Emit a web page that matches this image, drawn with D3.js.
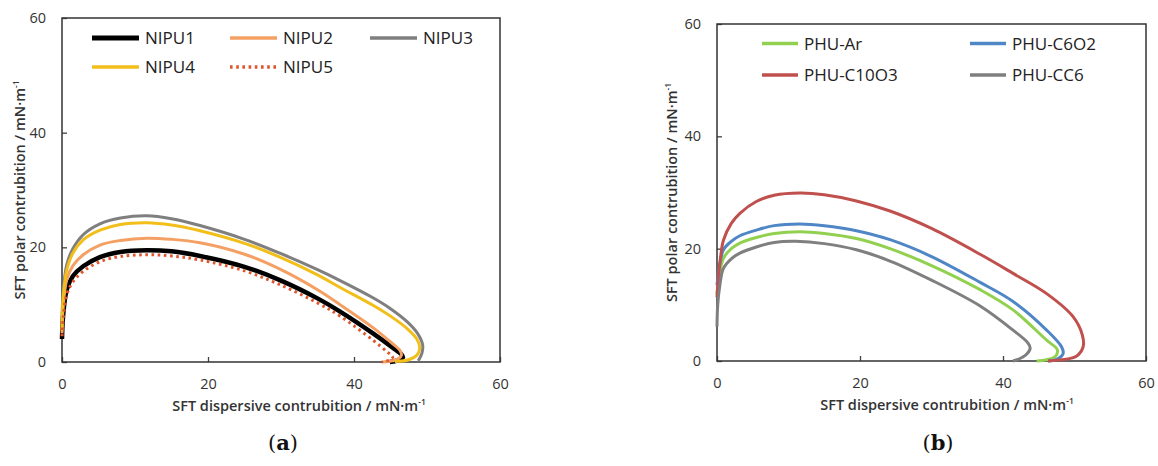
<!DOCTYPE html>
<html><head><meta charset="utf-8">
<script src="https://cdn.jsdelivr.net/npm/d3@7"></script>
<style>body{margin:0;background:#fff}</style>
</head><body><svg id="c" width="1158" height="466"></svg>
<script>
const xTicks=[0,20,40,60];
const yTicks=[0,20,40,60];
const namesA=["NIPU1","NIPU2","NIPU3","NIPU4","NIPU5"];
const namesB=["PHU-Ar","PHU-C6O2","PHU-C10O3","PHU-CC6"];
const xTitle="SFT dispersive contrubition / mN·m";
const yTitle="SFT polar contrubition / mN·m";
const panelLabels=["a","b"];

const nipu1=[[0,4],[0.15,8],[0.64,12.6],[1.5,15],[2.9,16.7],[5.2,18.3],[8,19.2],[11.6,19.5],[15,19.3],[18.9,18.5],[25,16.6],[30,14.2],[35,11.1],[38.1,8.8],[42.6,5.0],[45.3,2.5],[46.5,1.3],[46.7,0.8],[46,0.3],[44.9,0]];
const nipu2=[[0,5],[0.15,9.5],[0.64,14.3],[1.5,16.8],[2.9,18.7],[5.2,20.4],[8,21.2],[11.6,21.6],[15,21.4],[18.9,20.8],[25,18.8],[30,16.1],[35,12.6],[38.1,10.0],[42.6,6.0],[45,3.5],[46.3,2.0],[46.5,1.2],[46,0.5],[44,0]];
const nipu3=[[0,7.3],[0.15,12],[0.64,16.9],[1.5,19.8],[2.9,22.2],[5.2,24.1],[8,25.1],[11.6,25.5],[15,25.0],[18.9,23.8],[25,21.4],[30,18.9],[35,16.1],[38.1,14.2],[42.6,11.2],[45,9.3],[47.3,7.0],[48.7,5],[49.4,3],[49.3,1.5],[48.8,0.2]];
const nipu4=[[0,5.5],[0.15,11],[0.64,16],[1.5,19],[2.9,21.3],[5.2,23.0],[8,24.0],[11.6,24.3],[15,23.9],[18.9,22.9],[25,20.7],[30,18.2],[35,15.2],[38.1,13.0],[42.6,9.9],[45,8.0],[47.2,5.9],[48.6,4],[49,2.6],[48.7,1.3],[47.5,0.4],[45.6,0.1]];
const nipu5=[[0,4.5],[0.15,7.5],[0.64,11.7],[1.5,14],[2.9,15.8],[5.2,17.5],[8,18.4],[11.6,18.7],[15,18.5],[18.9,17.8],[25,15.9],[30,13.4],[35,10.3],[38.1,8.0],[42.6,3.8],[44.5,1.8],[45.3,0.9],[45,0.4],[43.8,0]];

const phuAr=[[0,12],[0.3,15],[0.9,18.3],[2,20],[3.2,21],[5.5,22.0],[8,22.7],[11.6,23.0],[15,22.7],[19.5,21.8],[24.2,20.0],[30,17.0],[36.8,12.7],[41.4,9.1],[46.1,3.7],[47.6,2.0],[47.3,0.8],[46,0.2],[44.7,0]];
const phuC6O2=[[0,13.5],[0.3,16.5],[0.9,19.8],[2,21.3],[3.2,22.3],[5.5,23.3],[8,24.1],[11.6,24.4],[15,24.1],[19.5,23.2],[24.2,21.6],[30,18.6],[36.8,14.0],[41.4,10.6],[46.1,5.5],[48.2,2.5],[48.4,1.3],[47.5,0.3],[46.3,0]];
const phuC10O3=[[0,11.4],[0.2,15],[0.5,18.5],[0.9,21.5],[2,24.5],[3.2,26.3],[5.5,28.4],[8,29.5],[11.6,29.9],[15,29.6],[19.5,28.5],[24.2,26.7],[30,23.6],[36.8,19.0],[41.4,15.6],[46.1,12.0],[49.8,7.9],[51.1,4.6],[51.2,2.5],[50.2,0.8],[48,0.2],[46.3,0]];
const phuCC6=[[0,6.1],[0.1,10],[0.4,13.5],[0.9,16.5],[2,18.2],[3.2,19.2],[5.5,20.3],[8,21.1],[11,21.3],[15,20.9],[19.5,19.8],[24.2,17.8],[30,14.4],[36.8,9.8],[41.4,5.5],[43.5,3.2],[43.8,2.3],[43.3,1.2],[42.3,0.4],[41.4,0]];

const seriesA=[nipu1,nipu2,nipu3,nipu4,nipu5];
const seriesB=[phuAr,phuC6O2,phuC10O3,phuCC6];

const svg=d3.select("#c");
svg.append("rect").attr("width",1158).attr("height",466).attr("fill","#fff");

const panels=[
 {names:namesA,data:seriesA,order:[0,1,2,3,4],
  colors:["#000000","#F4A064","#7F7F7F","#F2BE1A","#E0552B"],
  widths:[4.5,3,3,3,3],dash:[null,null,null,null,"2.6,3.6"],
  left:62,right:500,top:18,bottom:362,
  legend:{cols:[30,168,308],rows:[20,49],len:47,pos:[[0,0],[1,0],[2,0],[0,1],[1,1]],lw:[5,3.5,3.5,3.5,3.5]},
  yTitleX:20,xTitleX:299,labelX:283},
 {names:namesB,data:seriesB,order:[0,1,2,3],
  colors:["#92D050","#4F86C6","#C0504D","#7F7F7F"],
  widths:[3,3,3,3],dash:[null,null,null,null],
  left:717,right:1146,top:24,bottom:361,
  legend:{cols:[45,253],rows:[19.6,51],len:36,pos:[[0,0],[1,0],[0,1],[1,1]],lw:[3.5,3.5,3.5,3.5]},
  yTitleX:672,xTitleX:947,labelX:938}
];

panels.forEach((p,pi)=>{
 const x=d3.scaleLinear().domain([0,60]).range([p.left,p.right]);
 const y=d3.scaleLinear().domain([0,60]).range([p.bottom,p.top]);
 const g=svg.append("g");
 const ax=g.append("g").attr("transform",`translate(0,${p.bottom})`)
   .call(d3.axisBottom(x).tickValues(xTicks).tickSizeInner(-5).tickSizeOuter(0).tickPadding(17));
 const ay=g.append("g").attr("transform",`translate(${p.left},0)`)
   .call(d3.axisLeft(y).tickValues(yTicks).tickSizeInner(-5).tickSizeOuter(0).tickPadding(16));
 [ax,ay].forEach(a=>{
   a.select(".domain").remove();
   a.selectAll("line").attr("stroke","#404040").attr("stroke-width",1.3);
   a.selectAll("text").attr("font-family","Open Sans").attr("font-size",14.5).attr("fill","#333");
 });
 g.append("rect").attr("x",p.left).attr("y",p.top).attr("width",p.right-p.left).attr("height",p.bottom-p.top)
  .attr("fill","none").attr("stroke","#333").attr("stroke-width",1.5);
 const line=d3.line().x(d=>x(d[0])).y(d=>y(d[1])).curve(d3.curveCatmullRom.alpha(0.5));
 p.order.forEach(i=>{
   g.append("path").attr("d",line(p.data[i])).attr("fill","none")
    .attr("stroke",p.colors[i]).attr("stroke-width",p.widths[i])
    .attr("stroke-linejoin","round")
    .attr("stroke-dasharray",p.dash[i]);
 });
 p.names.forEach((n,i)=>{
   const [c,r]=p.legend.pos[i];
   const lx=p.left+p.legend.cols[c], ly=p.top+p.legend.rows[r];
   g.append("line").attr("x1",lx).attr("x2",lx+p.legend.len).attr("y1",ly).attr("y2",ly)
    .attr("stroke",p.colors[i]).attr("stroke-width",p.legend.lw[i]).attr("stroke-dasharray",p.dash[i]);
   g.append("text").attr("x",lx+p.legend.len+6).attr("y",ly+6)
    .attr("font-family","Open Sans").attr("font-size",17).attr("fill","#222").text(n);
 });
 const xt=g.append("text").attr("x",p.xTitleX).attr("y",p.bottom+49).attr("text-anchor","middle")
   .attr("font-family","Open Sans").attr("font-weight",600).attr("font-size",14.5).attr("fill","#333");
 xt.append("tspan").text(xTitle);
 xt.append("tspan").attr("font-size",8.5).attr("dy",-6.5).text("-1");
 const cy=(p.top+p.bottom)/2;
 const yt=g.append("text").attr("transform",`translate(${p.yTitleX},${cy}) rotate(-90)`).attr("text-anchor","middle")
   .attr("y",5).attr("font-family","Open Sans").attr("font-weight",600).attr("font-size",14.5).attr("fill","#333");
 yt.append("tspan").text(yTitle);
 yt.append("tspan").attr("font-size",8.5).attr("dy",-6.5).text("-1");
 const pl=g.append("text").attr("x",p.labelX).attr("y",450).attr("text-anchor","middle")
   .attr("font-family","DejaVu Serif").attr("font-size",21).attr("fill","#111");
 pl.append("tspan").text("(");
 pl.append("tspan").attr("font-weight","bold").text(panelLabels[pi]);
 pl.append("tspan").text(")");
});
</script></body></html>
